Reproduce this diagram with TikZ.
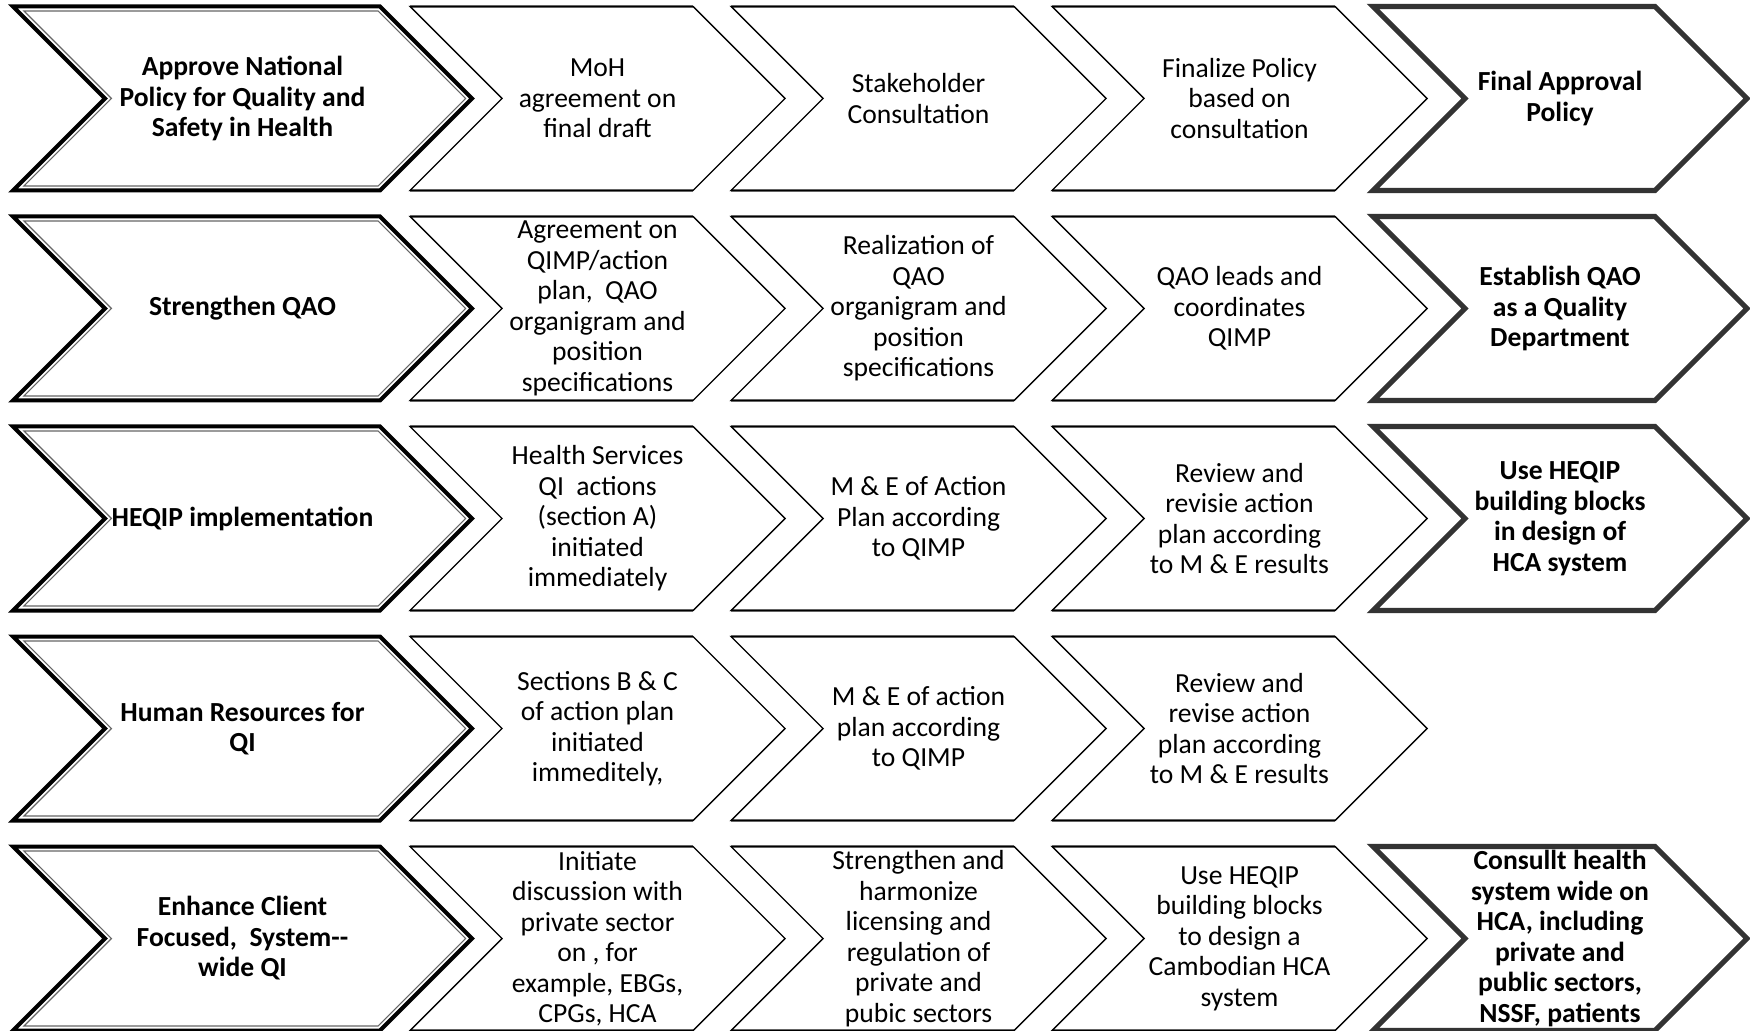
\documentclass[tikz,border=0pt]{standalone}
\usepackage{fontspec}
\setmainfont{Carlito}
\usepackage{tikz}

% chevron outline: style, left, top, width
\newcommand{\chevron}[4]{%
  \draw[#1] (#2,#3) -- ++(#4-92,0) -- ++(92,92) -- ++(-92,92) -- ++(-#4+92,0) -- ++(92,-92) -- cycle;}
% inner line of the double border
\newcommand{\chevroninner}[4]{%
  \draw[#1] ({#2+10.9},{#3+4.5}) -- ({#2+#4-93.9},{#3+4.5}) -- ({#2+#4-6.4},{#3+92})
   -- ({#2+#4-93.9},{#3+179.5}) -- ({#2+10.9},{#3+179.5}) -- ({#2+98.4},{#3+92}) -- cycle;}
% top and bottom edges of the middle chevrons
\newcommand{\chevronedges}[3]{%
  \draw[midedge] (#1,#2) -- ++(#3-92,0);
  \draw[midedge] (#1,#2+184) -- ++(#3-92,0);}

\begin{document}
\begin{tikzpicture}[x=0.5pt,y=-0.5pt,
    firstbox/.style={draw=black, line width=2pt},
    firstinner/.style={draw=black!60, line width=0.6pt},
    midbox/.style={draw=black, line width=0.7pt},
    midedge/.style={draw=black!55, line width=1.6pt},
    lastbox/.style={draw=black!80, line width=2.6pt},
    chevtext/.style={align=center, inner sep=0pt, font=\fontsize{13.8}{15.25}\selectfont},
    chevhead/.style={align=center, inner sep=0pt, font=\fontsize{13.8}{15.25}\selectfont\bfseries}]
    \useasboundingbox (0,0) rectangle (1750,1031);
    % Row 1: Policy
    \chevron{firstbox}{13}{6.5}{459}
    \chevroninner{firstinner}{13}{6.5}{459}
    \chevronedges{410}{6.5}{375}  \chevron{midbox}{410}{6.5}{375}
    \chevronedges{731}{6.5}{375}  \chevron{midbox}{731}{6.5}{375}
    \chevronedges{1052}{6.5}{375} \chevron{midbox}{1052}{6.5}{375}
    \chevron{lastbox}{1373}{6.5}{374}
    \node[chevhead] (r1c1) at (242.5,98.5) {Approve National\\Policy for Quality and\\Safety in Health};
    \node[chevtext] (r1c2) at (597.5,98.5) {MoH\\agreement on\\final draft};
    \node[chevtext] (r1c3) at (918.5,98.5) {Stakeholder\\Consultation};
    \node[chevtext] (r1c4) at (1239.5,98.5) {Finalize Policy\\based on\\consultation};
    \node[chevhead] (r1c5) at (1560,98.5) {Final Approval\\Policy};
    % Row 2: QAO
    \chevron{firstbox}{13}{216.5}{459}
    \chevroninner{firstinner}{13}{216.5}{459}
    \chevronedges{410}{216.5}{375}  \chevron{midbox}{410}{216.5}{375}
    \chevronedges{731}{216.5}{375}  \chevron{midbox}{731}{216.5}{375}
    \chevronedges{1052}{216.5}{375} \chevron{midbox}{1052}{216.5}{375}
    \chevron{lastbox}{1373}{216.5}{374}
    \node[chevhead] (r2c1) at (242.5,308.5) {Strengthen QAO};
    \node[chevtext] (r2c2) at (597.5,308.5) {Agreement on\\QIMP/action\\plan,\ \ QAO\\organigram and\\position\\specifications};
    \node[chevtext] (r2c3) at (918.5,308.5) {Realization of\\QAO\\organigram and\\position\\specifications};
    \node[chevtext] (r2c4) at (1239.5,308.5) {QAO leads and\\coordinates\\QIMP};
    \node[chevhead] (r2c5) at (1560,308.5) {Establish QAO\\as a Quality\\Department};
    % Row 3: HEQIP
    \chevron{firstbox}{13}{426.5}{459}
    \chevroninner{firstinner}{13}{426.5}{459}
    \chevronedges{410}{426.5}{375}  \chevron{midbox}{410}{426.5}{375}
    \chevronedges{731}{426.5}{375}  \chevron{midbox}{731}{426.5}{375}
    \chevronedges{1052}{426.5}{375} \chevron{midbox}{1052}{426.5}{375}
    \chevron{lastbox}{1373}{426.5}{374}
    \node[chevhead] (r3c1) at (242.5,518.5) {HEQIP implementation};
    \node[chevtext] (r3c2) at (597.5,518.5) {Health Services\\QI\ \ actions\\(section A)\\initiated\\immediately};
    \node[chevtext] (r3c3) at (918.5,518.5) {M \& E of Action\\Plan according\\to QIMP};
    \node[chevtext] (r3c4) at (1239.5,518.5) {Review and\\revisie action\\plan according\\to M \& E results};
    \node[chevhead] (r3c5) at (1560,518.5) {Use HEQIP\\building blocks\\in design of\\HCA system};
    % Row 4: Human resources
    \chevron{firstbox}{13}{636.5}{459}
    \chevroninner{firstinner}{13}{636.5}{459}
    \chevronedges{410}{636.5}{375}  \chevron{midbox}{410}{636.5}{375}
    \chevronedges{731}{636.5}{375}  \chevron{midbox}{731}{636.5}{375}
    \chevronedges{1052}{636.5}{375} \chevron{midbox}{1052}{636.5}{375}
    \node[chevhead] (r4c1) at (242.5,728.5) {Human Resources for\\QI};
    \node[chevtext] (r4c2) at (597.5,728.5) {Sections B \& C\\of action plan\\initiated\\immeditely,};
    \node[chevtext] (r4c3) at (918.5,728.5) {M \& E of action\\plan according\\to QIMP};
    \node[chevtext] (r4c4) at (1239.5,728.5) {Review and\\revise action\\plan according\\to M \& E results};
    % Row 5: Client focused QI
    \chevron{firstbox}{13}{846.5}{459}
    \chevroninner{firstinner}{13}{846.5}{459}
    \chevronedges{410}{846.5}{375}  \chevron{midbox}{410}{846.5}{375}
    \chevronedges{731}{846.5}{375}  \chevron{midbox}{731}{846.5}{375}
    \chevronedges{1052}{846.5}{375} \chevron{midbox}{1052}{846.5}{375}
    \chevron{lastbox}{1373}{846.5}{374}
    \node[chevhead] (r5c1) at (242.5,938.5) {Enhance Client\\Focused,\ \ System-{}-\\wide QI};
    \node[chevtext] (r5c2) at (597.5,938.5) {Initiate\\discussion with\\private sector\\on , for\\example, EBGs,\\CPGs, HCA};
    \node[chevtext] (r5c3) at (918.5,938.5) {Strengthen and\\harmonize\\licensing and\\regulation of\\private and\\pubic sectors};
    \node[chevtext] (r5c4) at (1239.5,938.5) {Use HEQIP\\building blocks\\to design a\\Cambodian HCA\\system};
    \node[chevhead] (r5c5) at (1560,938.5) {Consullt health\\system wide on\\HCA, including\\private and\\public sectors,\\NSSF, patients};
\end{tikzpicture}
\end{document}
